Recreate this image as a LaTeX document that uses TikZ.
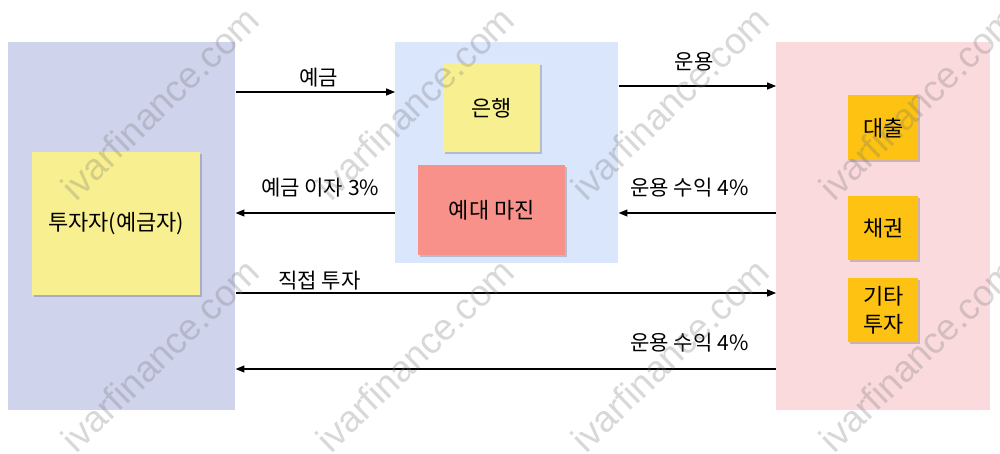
\documentclass[tikz,border=0pt]{standalone}
\usepackage{fontspec}
\setmainfont{Noto Sans CJK KR}
\newfontfamily\wmfont{Liberation Sans}
\usetikzlibrary{arrows.meta,shadows,calc}
\definecolor{lav}{HTML}{D0D3EC}
\definecolor{lblue}{HTML}{DAE6FC}
\definecolor{lpink}{HTML}{FADADD}
\definecolor{noteyel}{HTML}{F8F090}
\definecolor{notesal}{HTML}{F8918A}
\definecolor{noteorg}{HTML}{FDC212}
\begin{document}
\begin{tikzpicture}[x=0.02cm,y=-0.02cm,
  panel/.style={draw=none, anchor=north west, inner sep=0pt},
  note/.style={draw=none, anchor=north west, inner sep=2pt, font=\fontsize{12.5}{16}\selectfont, align=center,
    drop shadow={shadow xshift=0.8pt, shadow yshift=-0.8pt, opacity=0.18, fill=black}},
  conn/.style={draw=black, line width=0.6pt, -{Triangle[length=5pt,width=4pt]}},
  lbl/.style={font=\fontsize{12}{14}\selectfont, inner sep=0pt},
  wm/.style={font=\wmfont\fontsize{21}{21}\selectfont, text=black!55, opacity=0.28, rotate=44}
]
\useasboundingbox[fill=white] (0,0) rectangle (1000,453);

% panels
\node[panel, fill=lav, minimum width=4.54cm, minimum height=7.36cm] (left) at (8,42) {};
\node[panel, fill=lblue, minimum width=4.46cm, minimum height=4.42cm] (mid) at (395,42) {};
\node[panel, fill=lpink, minimum width=4.28cm, minimum height=7.36cm] (right) at (776,42) {};

% notes
\node[note, fill=noteyel, minimum width=3.36cm, minimum height=2.86cm] (inv) at (32,152) {투자자(예금자)};
\node[note, fill=noteyel, minimum width=1.94cm, minimum height=1.78cm] (bank) at (443,63) {은행};
\node[note, fill=notesal, minimum width=2.94cm, minimum height=1.80cm] (margin) at (418,165) {예대 마진};
\node[note, fill=noteorg, minimum width=1.40cm, minimum height=1.30cm] (loan) at (848,95) {대출};
\node[note, fill=noteorg, minimum width=1.40cm, minimum height=1.28cm] (bond) at (848,196) {채권};
\node[note, fill=noteorg, minimum width=1.40cm, minimum height=1.28cm] (other) at (848,278) {기타\\투자};

% connectors
\draw[conn] (left.east |- 0,92) -- node[lbl, pos=0.52, yshift=0.28cm] (l1) {예금} (mid.west |- 0,92);
\draw[conn] (mid.east |- 0,86) -- node[lbl, pos=0.48, yshift=0.48cm] (l2) {운용} (right.west |- 0,86);
\draw[conn] (mid.west |- 0,213) -- node[lbl, pos=0.47, yshift=0.5cm] (l3) {예금 이자 3\%} (left.east |- 0,213);
\draw[conn] (right.west |- 0,213) -- node[lbl, pos=0.55, yshift=0.5cm] (l4) {운용 수익 4\%} (mid.east |- 0,213);
\draw[conn] (left.east |- 0,293) -- node[lbl, pos=0.155, yshift=0.24cm] (l5) {직접 투자} (right.west |- 0,293);
\draw[conn] (right.west |- 0,369) -- node[lbl, pos=0.16, yshift=0.52cm] (l6) {운용 수익 4\%} (left.east |- 0,369);

% watermark
\foreach \cx in {160,415,670,918}{
  \foreach \cy in {103,355}{
    \node[wm] at (\cx,\cy) {ivarfinance.com};
  }
}
\end{tikzpicture}
\end{document}
